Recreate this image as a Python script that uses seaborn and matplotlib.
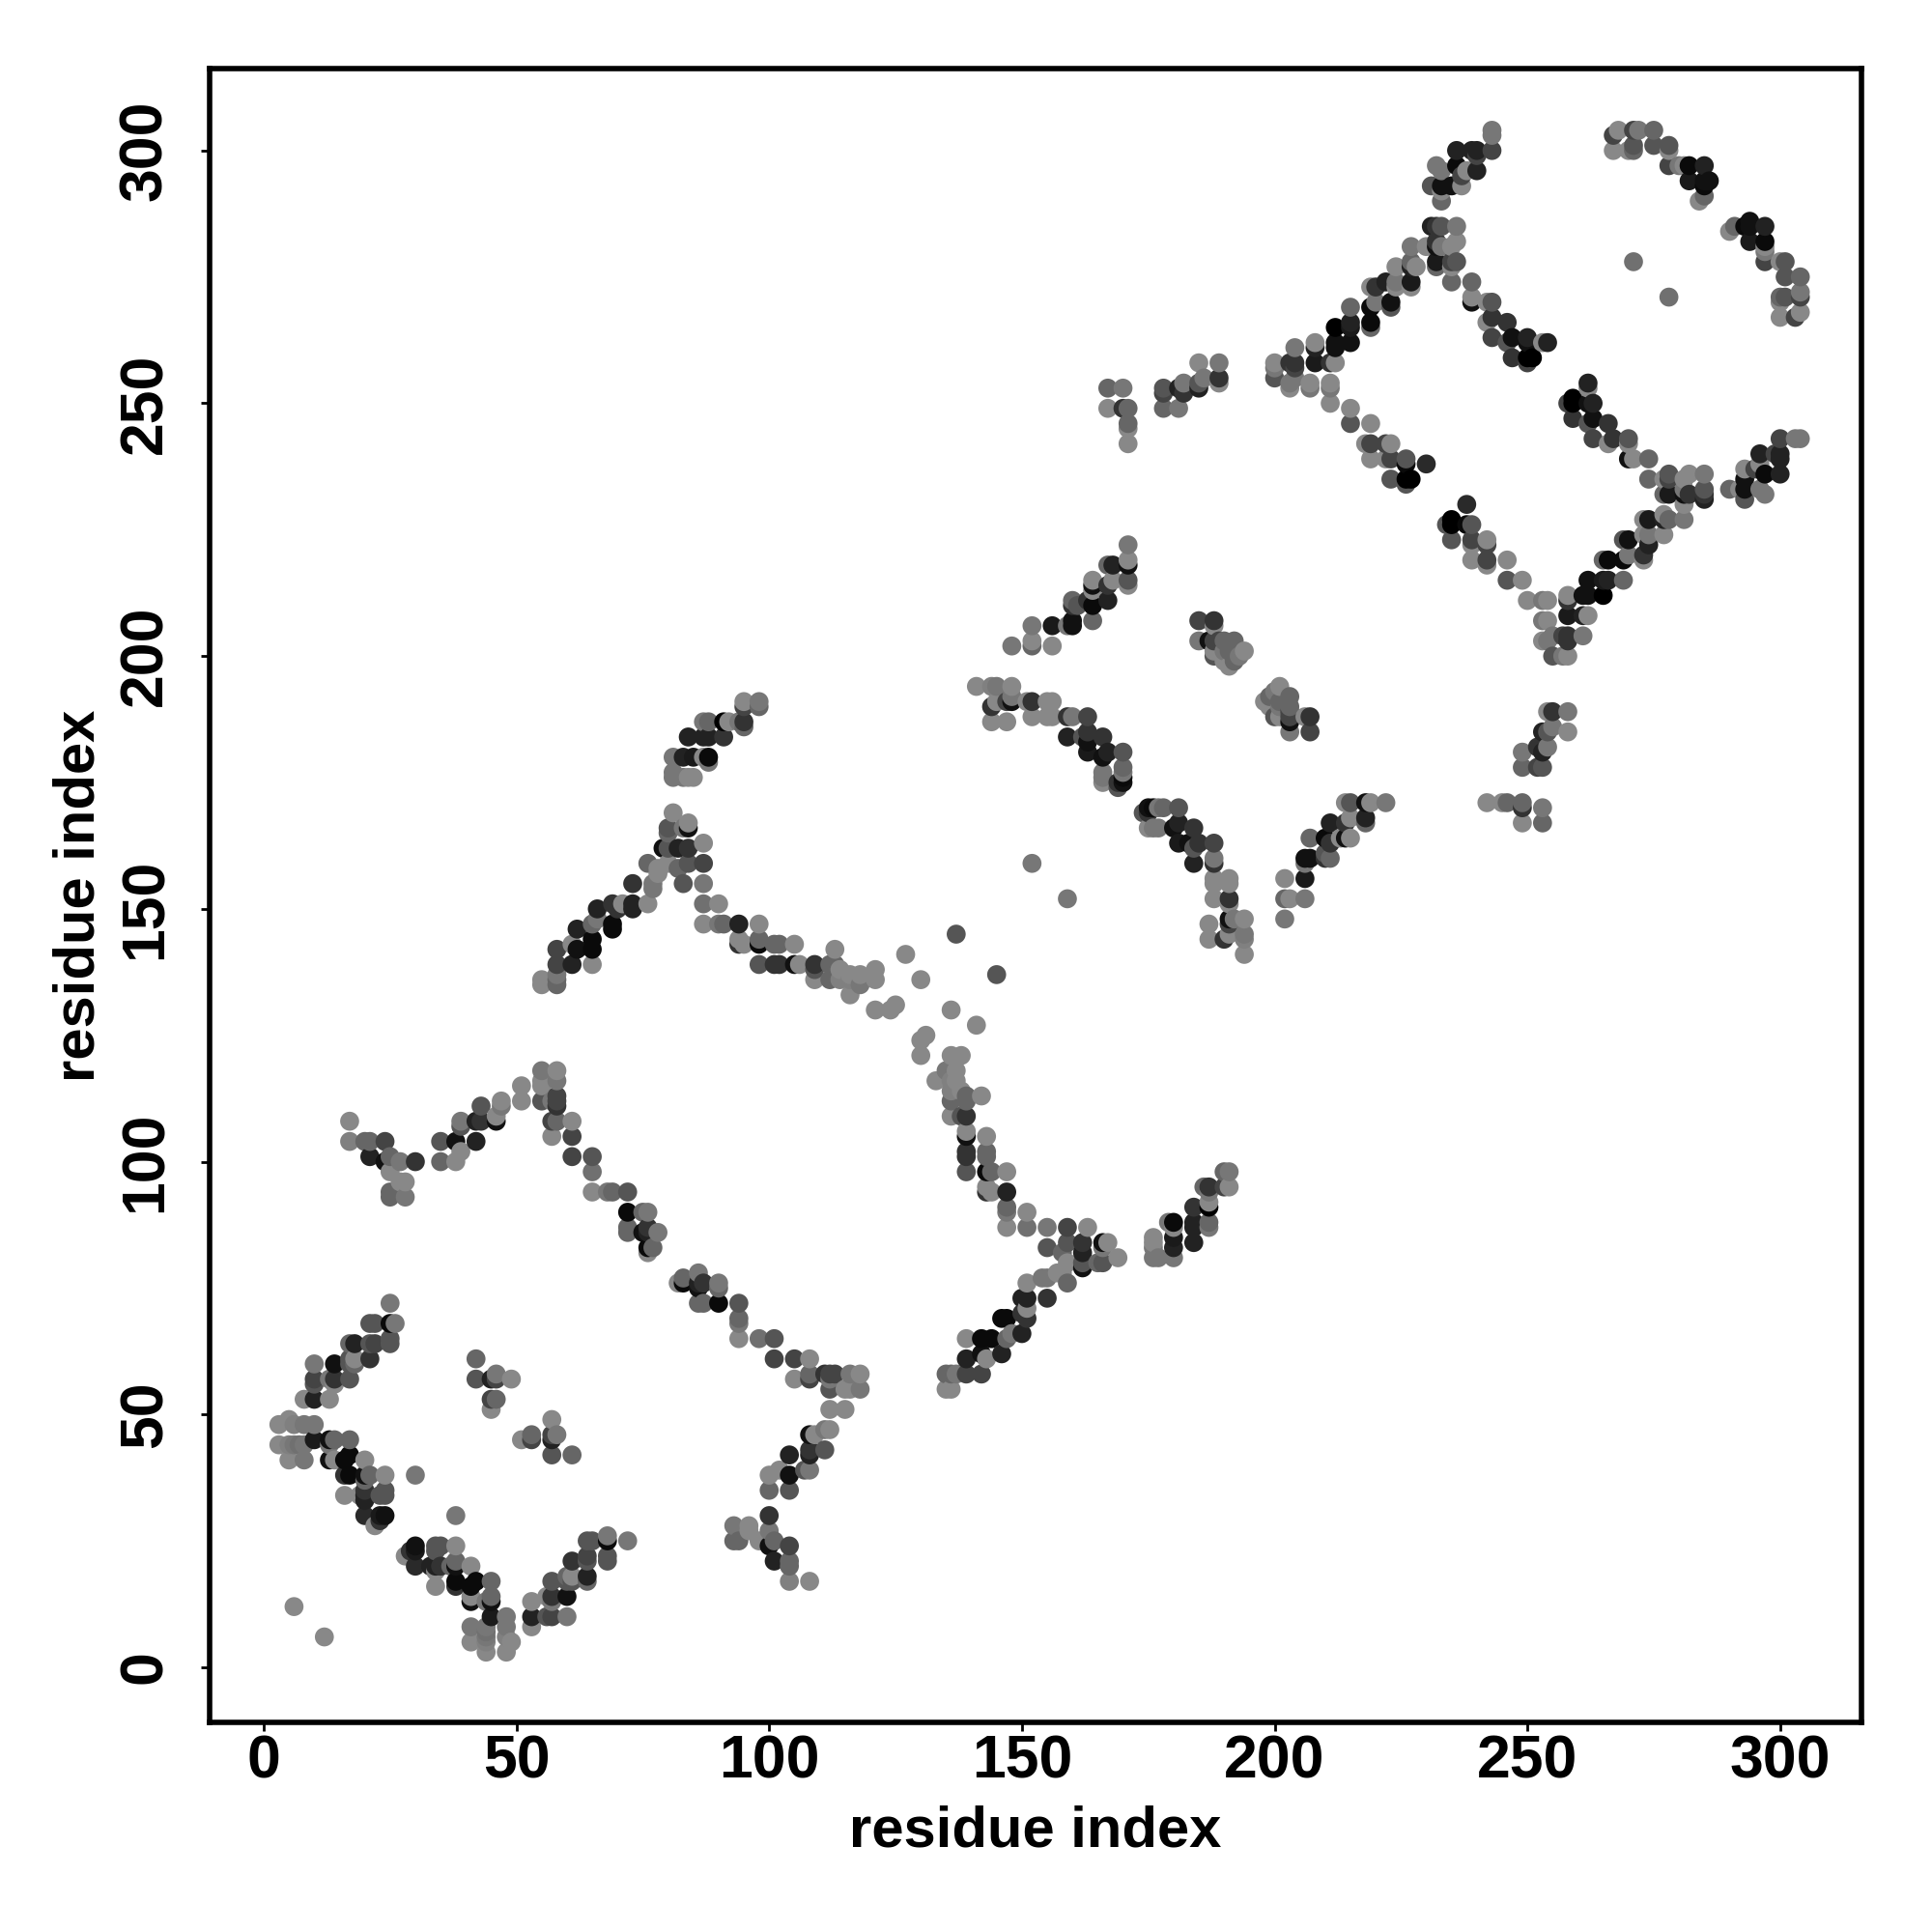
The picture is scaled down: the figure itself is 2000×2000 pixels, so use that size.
import pandas as pd
import matplotlib
matplotlib.use("Agg")
import matplotlib.pyplot as plt
import seaborn as sns

# contacts as (residue i, residue j, grey level), only i < j
# the map is symmetric so the other half comes from swapping i and j
left_upper = [(25,72,0x77),(26,68,0x77),(25,68,0x0a),(21,68,0x55),(22,68,0x55),(25,65,0x55),(25,64,0x55),
    (21,64,0x55),(22,64,0x44),(18,64,0x22),(17,64,0x66),(21,61,0x33),(18,61,0x88),(17,61,0x55),(18,60,0x66),
    (17,60,0x55),(14,60,0x11),(10,60,0x77),(14,57,0x33),(13,57,0x77),(10,57,0x44),(17,57,0x55),(14,56,0x88),
    (10,56,0x55),(10,53,0x22),(8,53,0x88),(13,53,0x88)]
left_lower = [(3,48,0x88),(5,49,0x88),(6,48,0x80),(8,48,0x77),(10,48,0x77),(3,44,0x88),(5,44,0x80),(6,44,0x77),
    (7,44,0x70),(8,44,0x77),(5,41,0x88),(8,41,0x77),(10,45,0x1a),(13,45,0x11),(14,45,0x66),(17,45,0x66),
    (13,44,0x77),(13,41,0x11),(14,41,0x88),(16,41,0x0a),(17,42,0x0a),(20,41,0x88),(16,38,0x33),(17,38,0x0a),
    (20,38,0x11),(21,38,0x66),(24,38,0x88),(30,38,0x77),(16,34,0x88),(20,37,0x66),(20,35,0x33),(20,34,0x22),
    (19,34,0x88),(20,33,0x22),(23,34,0x55),(24,35,0x55),(24,34,0x55),(20,30,0x2a),(23,30,0x1a),(24,30,0x11),
    (22,28,0x88),(23,29,0x33)]
isolated = [(42,61,0x66),(42,57,0x55),(45,57,0x22),(46,57,0x44),(46,58,0x77),(49,57,0x88),(45,53,0x44),
    (46,53,0x66),(45,51,0x88),(6,12,0x88),(137,145,0x55),(152,159,0x77),(271,278,0x70),
    (127,141,0x88),(130,136,0x88)]
hairpin_a = [(17,108,0x88),(17,104,0x80),(20,104,0x66),(21,104,0x66),(24,104,0x44),(21,101,0x22),(24,100,0x11),
    (25,101,0x66),(25,98,0x88),(27,100,0x77),(30,100,0x33),(25,94,0x66),(25,93,0x66),(27,96,0x88),(28,96,0x88),
    (28,93,0x77),(35,104,0x55),(35,100,0x66),(38,104,0x11),(38,100,0x88),(39,102,0x88),(42,104,0x22),
    (39,108,0x77),(39,107,0x55),(42,108,0x22),(43,108,0x33),(43,111,0x55),(46,108,0x11),(46,109,0x88),
    (47,111,0x77),(47,112,0x88),(51,115,0x88),(51,112,0x88)]
sheet_a = [(55,118,0x77),(58,118,0x88),(55,116,0x88),(58,116,0x77),(55,115,0x88),(55,112,0x55),(58,113,0x44),
    (58,112,0x44),(58,111,0x33),(57,112,0x77),(57,108,0x44),(58,108,0x66),(57,105,0x88),(61,108,0x88),(61,105,0x44),
    (61,101,0x44),(65,101,0x55),(65,98,0x70),(65,94,0x88),(68,94,0x77),(69,94,0x66),(72,94,0x55),(72,90,0x0a),
    (75,90,0x66),(76,90,0x77),(72,87,0x66),(72,86,0x66),(75,86,0x11),(76,87,0x33),(76,86,0x22),(78,86,0x77),
    (76,82,0x88),(76,83,0x0a),(77,83,0x66)]
top_arc = [(95,191,0x88),(98,190,0x66),(98,191,0x77),(95,190,0x44),(95,187,0x33),(95,186,0x66),(94,187,0x77),
    (92,187,0x88),(91,187,0x00),(88,187,0x66),(87,187,0x77),(91,184,0x33),(88,184,0x22),(87,184,0x22),
    (84,184,0x22),(81,180,0x77),(83,180,0x22),(85,180,0x1a),(88,180,0x0a),(87,180,0x88),(88,179,0x77),
    (81,177,0x77),(81,176,0x77),(84,176,0x88),(85,176,0x88),(83,176,0x77)]
mid_arm = [(81,169,0x88),(84,167,0x88),(84,166,0x11),(83,166,0x77),(80,166,0x55),(80,165,0x66),(84,162,0x33),
    (82,162,0x22),(80,162,0x55),(79,162,0x11),(84,159,0x55),(82,158,0x66),(80,159,0x88),(78,158,0x88),
    (76,159,0x66),(78,157,0x88),(77,155,0x77),(76,151,0x88),(77,154,0x77),(73,155,0x33),(73,151,0x22),
    (73,150,0x22),(71,151,0x88),(69,151,0x33),(70,150,0x33),(69,147,0x0a),(69,146,0x0a),(66,150,0x22),
    (65,147,0x66),(66,148,0x77),(65,142,0x0a),(65,144,0x0a),(65,139,0x88),(62,146,0x22),(61,143,0x88),
    (62,142,0x11),(61,139,0x22),(58,142,0x44),(58,139,0x44),(58,135,0x66),(58,137,0x77),(58,136,0x66),
    (55,136,0x88),(55,135,0x88),(87,163,0x88),(87,159,0x44),(83,155,0x55),(87,155,0x77)]
mid_branch = [(87,151,0x70),(90,151,0x88),(87,147,0x88),(90,147,0x77),(91,147,0x66),(94,147,0x22),(98,147,0x88),
    (95,143,0x88),(94,143,0x33),(94,144,0x88),(98,144,0x66),(98,143,0x0a),(101,143,0x66),(102,143,0x66),
    (105,143,0x88),(98,139,0x55),(101,139,0x33),(102,139,0x33),(105,139,0x11),(106,139,0x88),(109,139,0x33),
    (109,138,0x55),(113,142,0x88),(113,139,0x66),(109,136,0x88),(112,139,0x66),(112,136,0x66),(114,138,0x88),
    (114,136,0x80),(116,137,0x88),(116,136,0x80),(118,137,0x88),(118,135,0x77),(116,133,0x88),(121,138,0x88),
    (121,136,0x88),(121,130,0x88),(124,130,0x88),(125,131,0x88)]
top_arm = [(171,222,0x77),(171,219,0x88),(171,218,0x11),(168,218,0x22),(167,218,0x66),(171,215,0x55),(171,214,0x88),
    (168,215,0x88),(167,214,0x33),(164,215,0x88),(164,213,0x88),(164,214,0x11),(167,211,0x22),(164,210,0x0a),
    (161,210,0x55),(160,211,0x66),(163,211,0x33),(160,210,0x33),(164,207,0x66),(160,207,0x11),(160,206,0x11),
    (159,206,0x77),(156,206,0x1a),(152,206,0x77),(152,203,0x88),(152,202,0x66),(148,202,0x77),(156,202,0x88)]
islands = [(185,207,0x44),(188,207,0x33),(185,203,0x77),(188,206,0x88),(188,203,0x44),(187,203,0x11),(189,203,0x44),
    (190,203,0x66),(192,203,0x66),(191,201,0x66),(194,201,0x88),(192,199,0x66),(190,199,0x88),(193,200,0x77),
    (188,200,0x55),(190,201,0x77),(188,201,0x88),(191,198,0x88)]
left_group = [(141,194,0x88),(145,194,0x77),(144,194,0x80),(148,194,0x88),(148,192,0x77),(144,190,0x33),(145,191,0x88),
    (144,187,0x88),(147,187,0x88),(148,191,0x11),(147,191,0x44),(152,191,0x33),(151,191,0x88),(156,191,0x88),
    (155,191,0x88),(152,188,0x88),(156,188,0x88),(155,188,0x88),(159,188,0x33),(160,188,0x77),(163,188,0x44),
    (159,184,0x22),(163,185,0x33),(163,183,0x11),(162,184,0x55),(166,184,0x33),(163,181,0x1a),(167,181,0x22),
    (166,180,0x11),(170,181,0x55),(170,178,0x66),(170,177,0x77),(170,176,0x0a),(169,175,0x33),(166,176,0x77),
    (166,175,0x88),(166,177,0x77),(170,175,0x11),(169,174,0x55)]
upper_bits = [(167,253,0x66),(170,253,0x77),(167,249,0x88),(170,249,0x33),(171,249,0x66),(171,246,0x66),(171,245,0x88),
    (171,242,0x88),(178,253,0x55),(178,252,0x44),(178,249,0x66),(181,249,0x77),(181,253,0x22),(182,254,0x77),
    (182,252,0x33),(185,258,0x88),(185,254,0x55),(186,255,0x77),(185,253,0x22),(189,258,0x77),(189,255,0x33),
    (189,254,0x88)]
strand_200 = [(200,258,0x88),(200,257,0x77),(200,255,0x55),(204,261,0x77),(203,258,0x33),(204,258,0x33),(204,257,0x44),
    (204,255,0x77),(203,253,0x88),(203,254,0x77),(207,254,0x88),(207,253,0x77),(208,262,0x88),(208,258,0x1a),
    (208,261,0x22),(211,254,0x88),(211,253,0x77),(211,250,0x88),(211,258,0x33),(212,258,0x88),(212,261,0x11),
    (212,262,0x11),(215,262,0x11),(212,265,0x00),(215,265,0x1a),(215,266,0x22),(215,269,0x66),(215,249,0x88),
    (215,246,0x55),(219,246,0x88)]
strand_218 = [(218,242,0x88),(219,242,0x44),(222,242,0x44),(223,242,0x88),(219,239,0x88),(222,239,0x88),(223,239,0x44),
    (226,239,0x55),(226,238,0x0a),(230,238,0x2a),(223,235,0x55),(226,235,0x00),(227,235,0x00),(226,234,0x55)]
strand_219 = [(219,266,0x0a),(219,265,0x66),(219,269,0x0a),(220,270,0x77),(220,273,0x33),(219,273,0x88),(223,269,0x55),
    (223,270,0x11),(222,274,0x22),(224,277,0x88),(224,274,0x77),(224,273,0x88),(227,274,0x1a),(227,273,0x88),
    (228,277,0x88),(227,278,0x66),(227,277,0x22),(227,281,0x77),(230,281,0x88)]
strand_232 = [(233,285,0x55),(231,285,0x22),(232,285,0x33),(236,285,0x77),(236,282,0x88),(232,282,0x33),(232,281,0x11),
    (235,281,0x88),(233,281,0x77),(232,278,0x1a),(232,277,0x66),(235,278,0x44),(236,278,0x55),(235,277,0x88),
    (235,274,0x66),(239,274,0x66),(239,271,0x88),(239,270,0x11),(243,270,0x55),(242,270,0x88),(243,267,0x33),
    (242,266,0x88),(246,266,0x33),(243,263,0x44),(247,263,0x11),(250,263,0x22),(250,262,0x11),(246,262,0x55),
    (254,262,0x22),(253,262,0x88),(247,259,0x33),(250,259,0x00),(251,259,0x00),(250,258,0x44)]
top_cluster = [(243,304,0x77),(243,303,0x77),(243,300,0x44),(240,300,0x22),(239,300,0x22),(236,300,0x22),(240,299,0x44),
    (240,296,0x22),(238,296,0x88),(237,295,0x44),(236,297,0x0a),(237,293,0x88),(235,293,0x11),(233,293,0x11),
    (232,297,0x77),(233,296,0x77),(231,293,0x55),(233,292,0x88),(233,290,0x66)]
right_arc = [(267,300,0x88),(267,303,0x44),(268,304,0x88),(271,304,0x44),(272,304,0x77),(271,300,0x66),(271,301,0x55),
    (270,300,0x88),(275,301,0x55),(275,304,0x66),(278,301,0x55),(278,300,0x88),(278,297,0x44),(280,297,0x77),
    (281,297,0x88),(282,297,0x0a),(285,297,0x22),(282,294,0x1a),(285,294,0x11),(286,294,0x11),(285,293,0x0a),
    (285,291,0x66),(284,290,0x88)]

xticks = [0, 50, 100, 150, 200, 250, 300]
yticks = [0, 50, 100, 150, 200, 250, 300]

contacts = (left_upper + left_lower + isolated + hairpin_a + sheet_a + top_arc + mid_arm + mid_branch + top_arm
            + islands + left_group + upper_bits + strand_200 + strand_218 + strand_219 + strand_232
            + top_cluster + right_arc)

half = pd.DataFrame(contacts, columns=["i", "j", "level"])
mirror = half.rename(columns={"i": "j", "j": "i"})
df = pd.concat([half, mirror], ignore_index=True)
df = df.drop_duplicates(["i", "j"]).sort_values(["i", "j"])
df["grey"] = df["level"].map(lambda v: "#%02x%02x%02x" % (v, v, v))

sns.set_theme(style="white")
plt.rcParams["font.family"] = ["Liberation Sans", "DejaVu Sans"]

fig = plt.figure(figsize=(10, 10), dpi=200)
ax = fig.add_axes([217 / 2000, 1 - 1783 / 2000, (1927 - 217) / 2000, (1783 - 71) / 2000])

palette = {g: g for g in df["grey"].unique()}
sns.scatterplot(data=df, x="i", y="j", hue="grey", palette=palette, s=50, linewidth=0, legend=False, ax=ax)

ax.set_xlim(-10.7, 316.1)
ax.set_ylim(-10.9, 316.2)
ax.set_xticks(xticks)
ax.set_yticks(yticks)
ax.tick_params(axis="both", direction="out", length=3.2, width=1, color="black", left=True, bottom=True,
               labelsize=22.5, labelcolor="black")
ax.tick_params(axis="x", pad=0.8)
ax.tick_params(axis="y", pad=10)
for lab in ax.get_xticklabels():
    lab.set_fontweight("bold")
for lab in ax.get_yticklabels():
    lab.set_fontweight("bold")
    lab.set_rotation(90)
    lab.set_va("center")
for side in ax.spines.values():
    side.set_visible(True)
    side.set_linewidth(2)
    side.set_color("black")
ax.set_xlabel("residue index", fontsize=21.5, fontweight="bold", color="black", labelpad=5.4)
ax.set_ylabel("residue index", fontsize=21.5, fontweight="bold", color="black", labelpad=4.2)

fig.savefig("out.png", dpi=200)
plt.close(fig)
